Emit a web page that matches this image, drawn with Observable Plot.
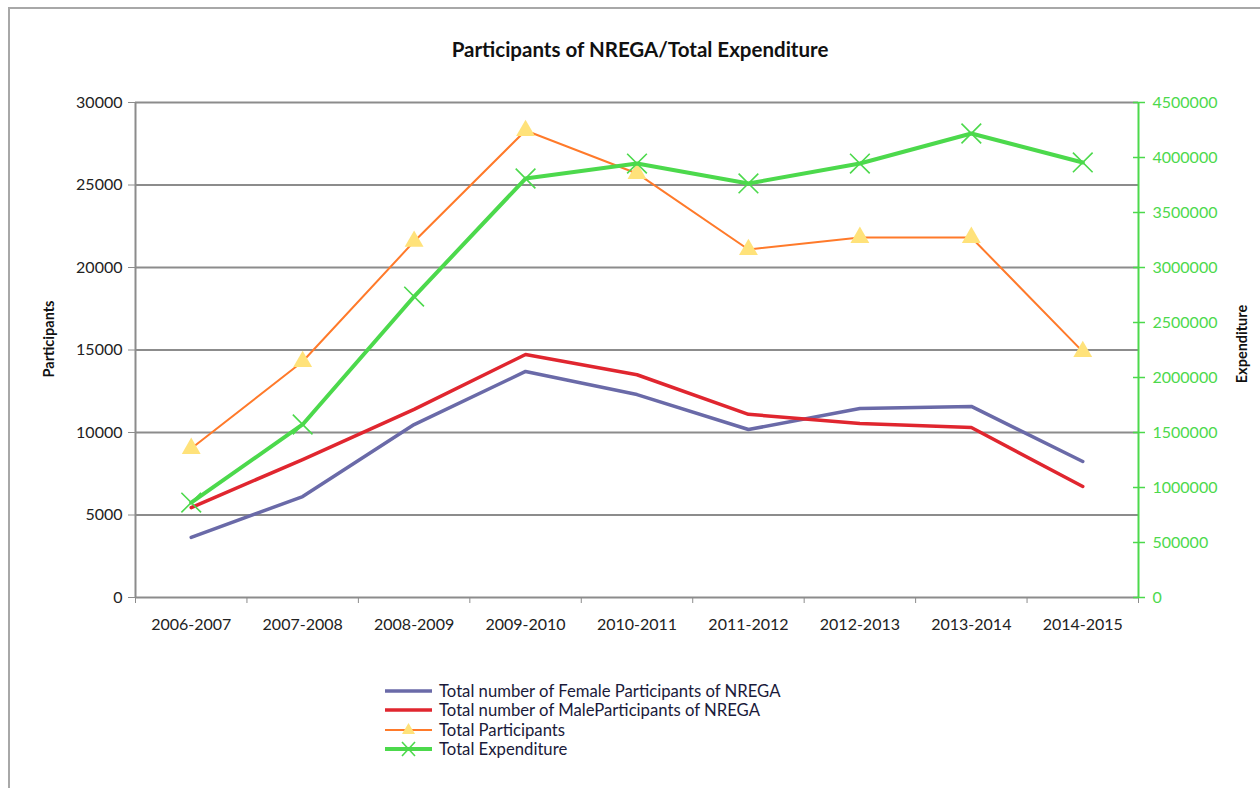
<!DOCTYPE html>
<html><head><meta charset="utf-8">
<script src="https://cdn.jsdelivr.net/npm/d3@7"></script>
<script src="https://cdn.jsdelivr.net/npm/@observablehq/plot@0.6"></script>
<style>
body{margin:0;background:#fff;font-family:Lato,"Open Sans",sans-serif;}
#wrap{position:relative;width:1260px;height:788px;overflow:hidden;background:#fff;}
#frame{position:absolute;left:8px;top:7px;width:1300px;height:820px;border-left:2px solid #a8a8a8;border-top:2px solid #a8a8a8;}
#title{position:absolute;left:0;top:37px;width:1280px;text-align:center;font-weight:bold;font-size:20.5px;color:#111;}
#chart{position:absolute;left:0;top:0;}
.ylab{position:absolute;font-weight:bold;font-size:14.5px;color:#111;transform:translate(-50%,-50%) rotate(-90deg);white-space:nowrap;}
#legend{position:absolute;left:385px;top:681px;font-size:16.7px;color:#1a1a3a;}
.row{display:flex;align-items:center;height:19.5px;}
.row svg{margin-right:6px;}
</style></head><body>
<div id="wrap">
  <div id="frame"></div>
  <div id="chart"></div>
  <div id="title">Participants of NREGA/Total Expenditure</div>
  <div class="ylab" style="left:48px;top:339px;">Participants</div>
  <div class="ylab" style="left:1241px;top:344px;">Expenditure</div>
  <div id="legend"></div>
</div>
<script>
const categories = ["2006-2007","2007-2008","2008-2009","2009-2010","2010-2011","2011-2012","2012-2013","2013-2014","2014-2015"];
const female = [3640, 6120, 10480, 13700, 12300, 10180, 11450, 11580, 8240];
const male = [5450, 8360, 11400, 14730, 13500, 11100, 10550, 10300, 6730];
const totalParticipants = [9030, 14300, 21580, 28300, 25700, 21090, 21820, 21820, 14900];
const expenditure = [863000, 1573000, 2736000, 3809000, 3945000, 3764000, 3945000, 4218000, 3955000];
const leftTicks = [0, 5000, 10000, 15000, 20000, 25000, 30000];
const rightTicks = [0, 500000, 1000000, 1500000, 2000000, 2500000, 3000000, 3500000, 4000000, 4500000];
const legendLabels = ["Total number of Female Participants of NREGA","Total number of MaleParticipants of NREGA","Total Participants","Total Expenditure"];

const C = {female:"#6a6aa8", male:"#e0262f", total:"#ff7a2a", tri:"#ffe27a", exp:"#4cd94c", grid:"#8c8c8c"};
const leftMax = 30000, rightMax = 4500000;
const k = leftMax / rightMax;
const toRows = arr => arr.map((v, i) => ({i, v}));
const expRows = expenditure.map((v, i) => ({i, v: v * k}));
const rightPos = rightTicks.map(v => v * k);

const chart = Plot.plot({
  width: 1260, height: 788,
  marginLeft: 135, marginRight: 122, marginTop: 102, marginBottom: 191,
  style: {fontFamily: "Lato, sans-serif", fontSize: "16px", background: "transparent"},
  x: {type: "linear", domain: [-0.5, categories.length - 0.5]},
  y: {domain: [0, leftMax]},
  marks: [
    Plot.gridY(leftTicks, {stroke: C.grid, strokeOpacity: 1, strokeWidth: 2}),
    Plot.ruleX([-0.5], {stroke: C.grid, strokeWidth: 2}),
    Plot.axisY(leftTicks, {anchor: "left", tickSize: 7, tickPadding: 6, tickFormat: d => String(d), stroke: C.grid, fill: "#222", fontSize: 16, label: null}),
    Plot.axisX(d3.range(-0.5, categories.length, 1), {anchor: "bottom", tickSize: 6, stroke: C.grid, fill: "none", label: null}),
    Plot.axisX(d3.range(categories.length), {anchor: "bottom", tickSize: 0, tickPadding: 21, tickFormat: i => categories[i], fill: "#222", fontSize: 16, label: null}),
    Plot.ruleX([categories.length - 0.5], {stroke: C.exp, strokeWidth: 2}),
    Plot.axisY(rightPos, {anchor: "right", tickSize: 12, dx: -6, stroke: C.exp, strokeWidth: 1.5, fill: "none", label: null}),
    Plot.axisY(rightPos, {anchor: "right", tickSize: 0, tickPadding: 14, tickFormat: (d, j) => String(rightTicks[j]), fill: C.exp, fontSize: 16, label: null}),
    Plot.line(toRows(female), {x: "i", y: "v", stroke: C.female, strokeWidth: 3.5}),
    Plot.line(toRows(male), {x: "i", y: "v", stroke: C.male, strokeWidth: 3.5}),
    Plot.line(toRows(totalParticipants), {x: "i", y: "v", stroke: C.total, strokeWidth: 2}),
    Plot.dot(toRows(totalParticipants), {x: "i", y: "v", symbol: "triangle", r: 7, fill: C.tri, stroke: "none"}),
    Plot.line(expRows, {x: "i", y: "v", stroke: C.exp, strokeWidth: 4}),
    Plot.dot(expRows, {x: "i", y: "v", symbol: "times", r: 9, stroke: C.exp, strokeWidth: 1.6, fill: "none"})
  ]
});
document.getElementById("chart").appendChild(chart);

// legend
const legend = d3.select("#legend");
const styles = [
  {stroke: C.female, w: 3.5},
  {stroke: C.male, w: 3.5},
  {stroke: C.total, w: 2, marker: "tri"},
  {stroke: C.exp, w: 4, marker: "x"}
];
legendLabels.forEach((lab, j) => {
  const row = legend.append("div").attr("class", "row");
  const s = row.append("svg").attr("width", 48).attr("height", 20).style("overflow", "visible");
  s.append("line").attr("x1", 0).attr("x2", 47).attr("y1", 10).attr("y2", 10)
    .attr("stroke", styles[j].stroke).attr("stroke-width", styles[j].w);
  if (styles[j].marker === "tri") {
    s.append("path").attr("d", "M23.5,3 L30,14 L17,14 Z").attr("fill", C.tri);
  }
  if (styles[j].marker === "x") {
    s.append("path").attr("d", "M17,3 L30,17 M30,3 L17,17").attr("stroke", C.exp).attr("stroke-width", 1.6);
  }
  row.append("span").text(lab);
});
</script>
</body></html>
